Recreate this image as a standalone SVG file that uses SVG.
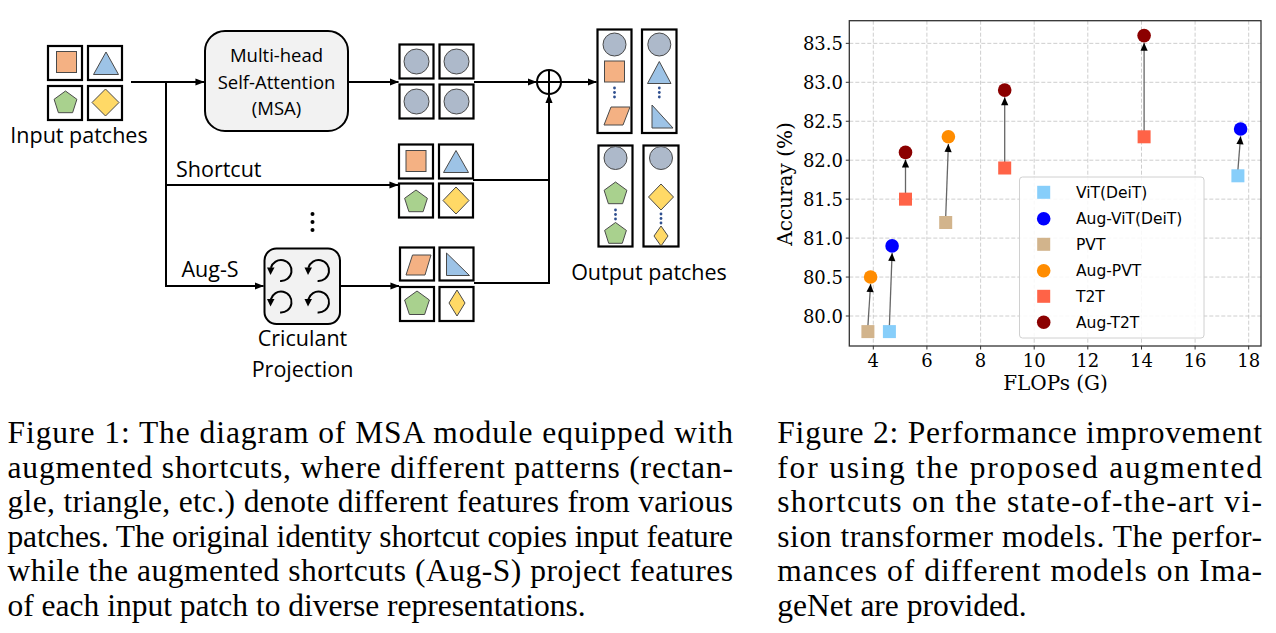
<svg xmlns="http://www.w3.org/2000/svg" width="1276" height="633" viewBox="0 0 1276 633">
<defs>
<marker id="ah" viewBox="0 0 10 10" refX="9.5" refY="5" markerWidth="9" markerHeight="9" markerUnits="userSpaceOnUse" orient="auto"><path d="M0,1 L10,5 L0,9 z" fill="#000"/></marker>
<marker id="ahc" viewBox="0 0 10 10" refX="10" refY="5" markerWidth="9" markerHeight="8" markerUnits="userSpaceOnUse" orient="auto"><path d="M0,0.5 L10,5 L0,9.5 z" fill="#000"/></marker>
</defs>
<style>
.pb{fill:#fff;stroke:#000;stroke-width:2.2}
.ln{fill:none;stroke:#000;stroke-width:2}
.sh{stroke:#4a4a4a;stroke-width:1}
.or{fill:#F4B183}
.bl{fill:#9DC3E6}
.gr{fill:#A9D18E}
.ye{fill:#FFD966}
.gy{fill:#ADB9CA}
.dt{fill:#2F4F8F}
.lbl{font-family:"Open Sans","Liberation Sans",sans-serif;font-size:21.5px;fill:#000}
.msa{font-family:"Open Sans","Liberation Sans",sans-serif;font-size:18.5px;fill:#000;text-anchor:middle}
.rb{fill:#F2F2F2;stroke:#000;stroke-width:2}
.arc{fill:none;stroke:#000;stroke-width:2}
.grid{stroke:#c8c8c8;stroke-width:0.9;stroke-dasharray:4 2;fill:none}
.tk{stroke:#333;stroke-width:1}
.tl{font-family:"DejaVu Serif",serif;font-size:18px;fill:#000}
.lg{font-family:"DejaVu Sans",sans-serif;font-size:15.5px;fill:#000}
.carr{stroke:#666;stroke-width:1.3;fill:none}
.cap{font-family:"Liberation Serif","Times New Roman",serif;font-size:31.5px;fill:#000}
</style>
<rect x="0" y="0" width="1276" height="633" fill="#fff"/>

<!-- Figure 1 diagram -->
<g id="input-patches">
  <rect class="pb" x="48" y="46" width="34" height="34"/>
  <rect class="pb" x="88" y="46" width="34" height="34"/>
  <rect class="pb" x="48" y="86" width="34" height="34"/>
  <rect class="pb" x="88" y="86" width="34" height="34"/>
  <rect class="or sh" x="56.5" y="51.5" width="20" height="21"/>
  <polygon class="bl sh" points="106,52 93.5,74.5 118.5,74.5"/>
  <polygon class="gr sh" points="65.5,91 76.9,99.3 72.6,112.7 58.4,112.7 54.1,99.3"/>
  <polygon class="ye sh" points="105.5,89 119,102.5 105.5,116 92,102.5"/>
  <text class="lbl" x="79" y="142.5" text-anchor="middle">Input patches</text>
</g>

<g id="msa">
  <rect class="rb" x="205" y="31" width="143" height="100" rx="20"/>
  <text class="msa" x="276.5" y="62">Multi-head</text>
  <text class="msa" x="276.5" y="88.5">Self-Attention</text>
  <text class="msa" x="276.5" y="115">(MSA)</text>
</g>

<g id="msa-output">
  <rect class="pb" x="399.5" y="44.5" width="34" height="34"/>
  <rect class="pb" x="439.5" y="44.5" width="34" height="34"/>
  <rect class="pb" x="399.5" y="84.5" width="34" height="34"/>
  <rect class="pb" x="439.5" y="84.5" width="34" height="34"/>
  <circle class="gy sh" cx="416.5" cy="61.5" r="12.5"/>
  <circle class="gy sh" cx="456.5" cy="61.5" r="12.5"/>
  <circle class="gy sh" cx="416.5" cy="101.5" r="12.5"/>
  <circle class="gy sh" cx="456.5" cy="101.5" r="12.5"/>
</g>

<g id="shortcut-output">
  <rect class="pb" x="399" y="144.5" width="34" height="34"/>
  <rect class="pb" x="439" y="144.5" width="34" height="34"/>
  <rect class="pb" x="399" y="183.5" width="34" height="34"/>
  <rect class="pb" x="439" y="183.5" width="34" height="34"/>
  <rect class="or sh" x="406" y="150.5" width="20" height="21"/>
  <polygon class="bl sh" points="456,150.5 443.5,172.5 468.5,172.5"/>
  <polygon class="gr sh" points="416,190 427.4,198.3 423.1,211.7 408.9,211.7 404.6,198.3"/>
  <polygon class="ye sh" points="456,187 469,200.5 456,214 443,200.5"/>
</g>

<g id="dots-mid">
  <circle cx="312.5" cy="214" r="2"/>
  <circle cx="312.5" cy="222" r="2"/>
  <circle cx="312.5" cy="230" r="2"/>
</g>

<g id="circulant">
  <rect class="rb" x="264.5" y="248.5" width="75.5" height="75.5" rx="12"/>
  <path class="arc" d="M280.1,281 A10.5,10.5 0 1 0 270.9,267.8"/>
  <polygon points="267,267.5 274.5,267.5 270.5,275"/>
  <path class="arc" d="M317.6,281 A10.5,10.5 0 1 0 308.4,267.8"/>
  <polygon points="304.5,267.5 312,267.5 308,275"/>
  <path class="arc" d="M280.1,312.5 A10.5,10.5 0 1 0 270.9,299.3"/>
  <polygon points="267,299 274.5,299 270.5,306.5"/>
  <path class="arc" d="M317.6,312.5 A10.5,10.5 0 1 0 308.4,299.3"/>
  <polygon points="304.5,299 312,299 308,306.5"/>
  <text class="lbl" x="302.5" y="346" text-anchor="middle">Criculant</text>
  <text class="lbl" x="302.5" y="376.5" text-anchor="middle">Projection</text>
</g>

<g id="aug-output">
  <rect class="pb" x="400" y="247.5" width="34" height="33"/>
  <rect class="pb" x="439.5" y="247.5" width="34" height="33"/>
  <rect class="pb" x="400" y="287" width="34" height="34"/>
  <rect class="pb" x="439.5" y="287" width="34" height="34"/>
  <polygon class="or sh" points="412.5,255 431,255 425,275 406,275"/>
  <polygon class="bl sh" points="446.5,253 446.5,275.5 469.5,275.5"/>
  <polygon class="gr sh" points="417,291 429.4,300 424.6,314.5 409.4,314.5 404.6,300"/>
  <polygon class="ye sh" points="457,290 465,303 457,316 449,303"/>
</g>

<g id="plus">
  <circle cx="549" cy="82" r="12" fill="#fff" stroke="#000" stroke-width="2"/>
  <path class="ln" d="M537,82 H561 M549,70 V94"/>
</g>

<g id="output-patches">
  <rect class="pb" x="597.5" y="29.5" width="34" height="103.5"/>
  <rect class="pb" x="642" y="29.5" width="34.5" height="103.5"/>
  <rect class="pb" x="598.5" y="145.5" width="34" height="101"/>
  <rect class="pb" x="643.5" y="145.5" width="35" height="101"/>
  <circle class="gy sh" cx="614.5" cy="44.5" r="11.5"/>
  <rect class="or sh" x="604.5" y="61" width="20" height="21"/>
  <circle class="dt" cx="614.5" cy="88" r="1.4"/><circle class="dt" cx="614.5" cy="92.5" r="1.4"/><circle class="dt" cx="614.5" cy="97" r="1.4"/>
  <polygon class="or sh" points="611,107 630,107 623,125 604,125"/>
  <circle class="gy sh" cx="659.3" cy="44.5" r="11.5"/>
  <polygon class="bl sh" points="659.3,61.5 647.5,83.5 671,83.5"/>
  <circle class="dt" cx="659.3" cy="88" r="1.4"/><circle class="dt" cx="659.3" cy="92.5" r="1.4"/><circle class="dt" cx="659.3" cy="97" r="1.4"/>
  <polygon class="bl sh" points="652,105 652,128 673,128"/>
  <circle class="gy sh" cx="615.5" cy="158" r="11.5"/>
  <polygon class="gr sh" points="615.5,182 626.9,190.3 622.6,203.7 608.4,203.7 604.1,190.3"/>
  <circle class="dt" cx="615.5" cy="210" r="1.4"/><circle class="dt" cx="615.5" cy="214.5" r="1.4"/><circle class="dt" cx="615.5" cy="219" r="1.4"/>
  <polygon class="gr sh" points="615.5,222.5 626.4,230.4 622.3,243.3 608.7,243.3 604.6,230.4"/>
  <circle class="gy sh" cx="661" cy="158" r="11.5"/>
  <polygon class="ye sh" points="661,184 673.5,197 661,210 648.5,197"/>
  <circle class="dt" cx="661" cy="214" r="1.4"/><circle class="dt" cx="661" cy="218.5" r="1.4"/><circle class="dt" cx="661" cy="223" r="1.4"/>
  <polygon class="ye sh" points="661,226 668,236 661,246 654,236"/>
  <text class="lbl" x="649" y="279.5" text-anchor="middle">Output patches</text>
</g>

<g id="connectors">
  <path class="ln" d="M131,82 H204" marker-end="url(#ah)"/>
  <path class="ln" d="M166,82 V286 H263.5" marker-end="url(#ah)"/>
  <path class="ln" d="M166,185 H398" marker-end="url(#ah)"/>
  <path class="ln" d="M348,82 H398.5" marker-end="url(#ah)"/>
  <path class="ln" d="M474,82 H536.5" marker-end="url(#ah)"/>
  <path class="ln" d="M561,82 H596.5" marker-end="url(#ah)"/>
  <path class="ln" d="M340,286 H399" marker-end="url(#ah)"/>
  <path class="ln" d="M473,180 H549"/>
  <path class="ln" d="M474,283 H549 V94.5" marker-end="url(#ah)"/>
  <text class="lbl" x="176" y="177">Shortcut</text>
  <text class="lbl" x="181.5" y="277">Aug-S</text>
</g>

<!-- Figure 2 chart -->
<g id="chart-grid">
  <path class="grid" d="M873.3,20.7 V346 M926.9,20.7 V346 M980.6,20.7 V346 M1034.2,20.7 V346 M1087.8,20.7 V346 M1141.5,20.7 V346 M1195.1,20.7 V346 M1248.7,20.7 V346"/>
  <path class="grid" d="M849.3,316 H1261 M849.3,277.05 H1261 M849.3,238.1 H1261 M849.3,199.15 H1261 M849.3,160.2 H1261 M849.3,121.25 H1261 M849.3,82.3 H1261 M849.3,43.35 H1261"/>
</g>
<g id="chart-axes">
  <rect x="849.3" y="20.7" width="411.7" height="325.3" fill="none" stroke="#333" stroke-width="1.3"/>
  <path class="tk" d="M873.3,346 V349.5 M926.9,346 V349.5 M980.6,346 V349.5 M1034.2,346 V349.5 M1087.8,346 V349.5 M1141.5,346 V349.5 M1195.1,346 V349.5 M1248.7,346 V349.5"/>
  <path class="tk" d="M849.3,316 H845.8 M849.3,277.05 H845.8 M849.3,238.1 H845.8 M849.3,199.15 H845.8 M849.3,160.2 H845.8 M849.3,121.25 H845.8 M849.3,82.3 H845.8 M849.3,43.35 H845.8"/>
  <g class="tl" text-anchor="end">
    <text x="843" y="322.7">80.0</text>
    <text x="843" y="283.75">80.5</text>
    <text x="843" y="244.8">81.0</text>
    <text x="843" y="205.85">81.5</text>
    <text x="843" y="166.9">82.0</text>
    <text x="843" y="127.95">82.5</text>
    <text x="843" y="89">83.0</text>
    <text x="843" y="50.05">83.5</text>
  </g>
  <g class="tl" text-anchor="middle">
    <text x="873.3" y="366.5">4</text>
    <text x="926.9" y="366.5">6</text>
    <text x="980.6" y="366.5">8</text>
    <text x="1034.2" y="366.5">10</text>
    <text x="1087.8" y="366.5">12</text>
    <text x="1141.5" y="366.5">14</text>
    <text x="1195.1" y="366.5">16</text>
    <text x="1248.7" y="366.5">18</text>
  </g>
  <text x="1055.5" y="390" font-family="DejaVu Serif, serif" font-size="20" text-anchor="middle">FLOPs (G)</text>
  <text transform="translate(792,184) rotate(-90)" font-family="DejaVu Serif, serif" font-size="20" text-anchor="middle">Accuray (%)</text>
</g>
<g id="chart-arrows" class="carr" marker-end="url(#ahc)">
  <path d="M867.9,326 L870.6,284"/>
  <path d="M889.4,326 L892.1,253"/>
  <path d="M905.5,193.5 L905.5,159.5"/>
  <path d="M945.7,217 L948.4,144"/>
  <path d="M1004.7,162.5 L1004.7,97.2"/>
  <path d="M1144.1,131 L1144.1,42.7"/>
  <path d="M1237.9,170 L1240.6,136.2"/>
</g>
<g id="chart-points">
  <rect x="861.4" y="325.1" width="13" height="13" fill="#D2B48C"/>
  <rect x="882.9" y="325.1" width="13" height="13" fill="#87CEFA"/>
  <rect x="899" y="192.65" width="13" height="13" fill="#FF6347"/>
  <rect x="939.2" y="216" width="13" height="13" fill="#D2B48C"/>
  <rect x="998.2" y="161.5" width="13" height="13" fill="#FF6347"/>
  <rect x="1137.6" y="130.3" width="13" height="13" fill="#FF6347"/>
  <rect x="1231.4" y="169.3" width="13" height="13" fill="#87CEFA"/>
  <circle cx="870.6" cy="277.05" r="6.8" fill="#FF8C00"/>
  <circle cx="892.1" cy="245.9" r="6.8" fill="#0000FF"/>
  <circle cx="905.5" cy="152.4" r="6.8" fill="#8B0000"/>
  <circle cx="948.4" cy="136.8" r="6.8" fill="#FF8C00"/>
  <circle cx="1004.7" cy="90.1" r="6.8" fill="#8B0000"/>
  <circle cx="1144.1" cy="35.6" r="6.8" fill="#8B0000"/>
  <circle cx="1240.6" cy="129" r="6.8" fill="#0000FF"/>
</g>
<g id="legend">
  <rect x="1019.5" y="177" width="184.5" height="161" rx="3" fill="#fff" fill-opacity="0.85" stroke="#d0d0d0" stroke-width="1"/>
  <rect x="1037.2" y="185.8" width="13" height="13" fill="#87CEFA"/>
  <circle cx="1043.7" cy="218.7" r="6.8" fill="#0000FF"/>
  <rect x="1037.2" y="237.8" width="13" height="13" fill="#D2B48C"/>
  <circle cx="1043.7" cy="270.7" r="6.8" fill="#FF8C00"/>
  <rect x="1037.2" y="289.8" width="13" height="13" fill="#FF6347"/>
  <circle cx="1043.7" cy="322.3" r="6.8" fill="#8B0000"/>
  <text class="lg" x="1076" y="198">ViT(DeiT)</text>
  <text class="lg" x="1076" y="224.3">Aug-ViT(DeiT)</text>
  <text class="lg" x="1076" y="250">PVT</text>
  <text class="lg" x="1076" y="276.3">Aug-PVT</text>
  <text class="lg" x="1076" y="302">T2T</text>
  <text class="lg" x="1076" y="328">Aug-T2T</text>
</g>

<g id="caption-1" class="cap">
  <text x="7.5" y="443.3" textLength="725.5" lengthAdjust="spacing">Figure 1: The diagram of MSA module equipped with</text>
  <text x="7.5" y="477.8" textLength="725.5" lengthAdjust="spacing">augmented shortcuts, where different patterns (rectan-</text>
  <text x="7.5" y="512.3" textLength="725.5" lengthAdjust="spacing">gle, triangle, etc.) denote different features from various</text>
  <text x="7.5" y="546.8" textLength="725.5" lengthAdjust="spacing">patches. The original identity shortcut copies input feature</text>
  <text x="7.5" y="581.3" textLength="725.5" lengthAdjust="spacing">while the augmented shortcuts (Aug-S) project features</text>
  <text x="7.5" y="615.8">of each input patch to diverse representations.</text>
</g>
<g id="caption-2" class="cap">
  <text x="777.3" y="443.3" textLength="484.7" lengthAdjust="spacing">Figure 2: Performance improvement</text>
  <text x="777.3" y="477.8" textLength="484.7" lengthAdjust="spacing">for using the proposed augmented</text>
  <text x="777.3" y="512.3" textLength="484.7" lengthAdjust="spacing">shortcuts on the state-of-the-art vi-</text>
  <text x="777.3" y="546.8" textLength="484.7" lengthAdjust="spacing">sion transformer models. The perfor-</text>
  <text x="777.3" y="581.3" textLength="484.7" lengthAdjust="spacing">mances of different models on Ima-</text>
  <text x="777.3" y="615.8">geNet are provided.</text>
</g>
</svg>
